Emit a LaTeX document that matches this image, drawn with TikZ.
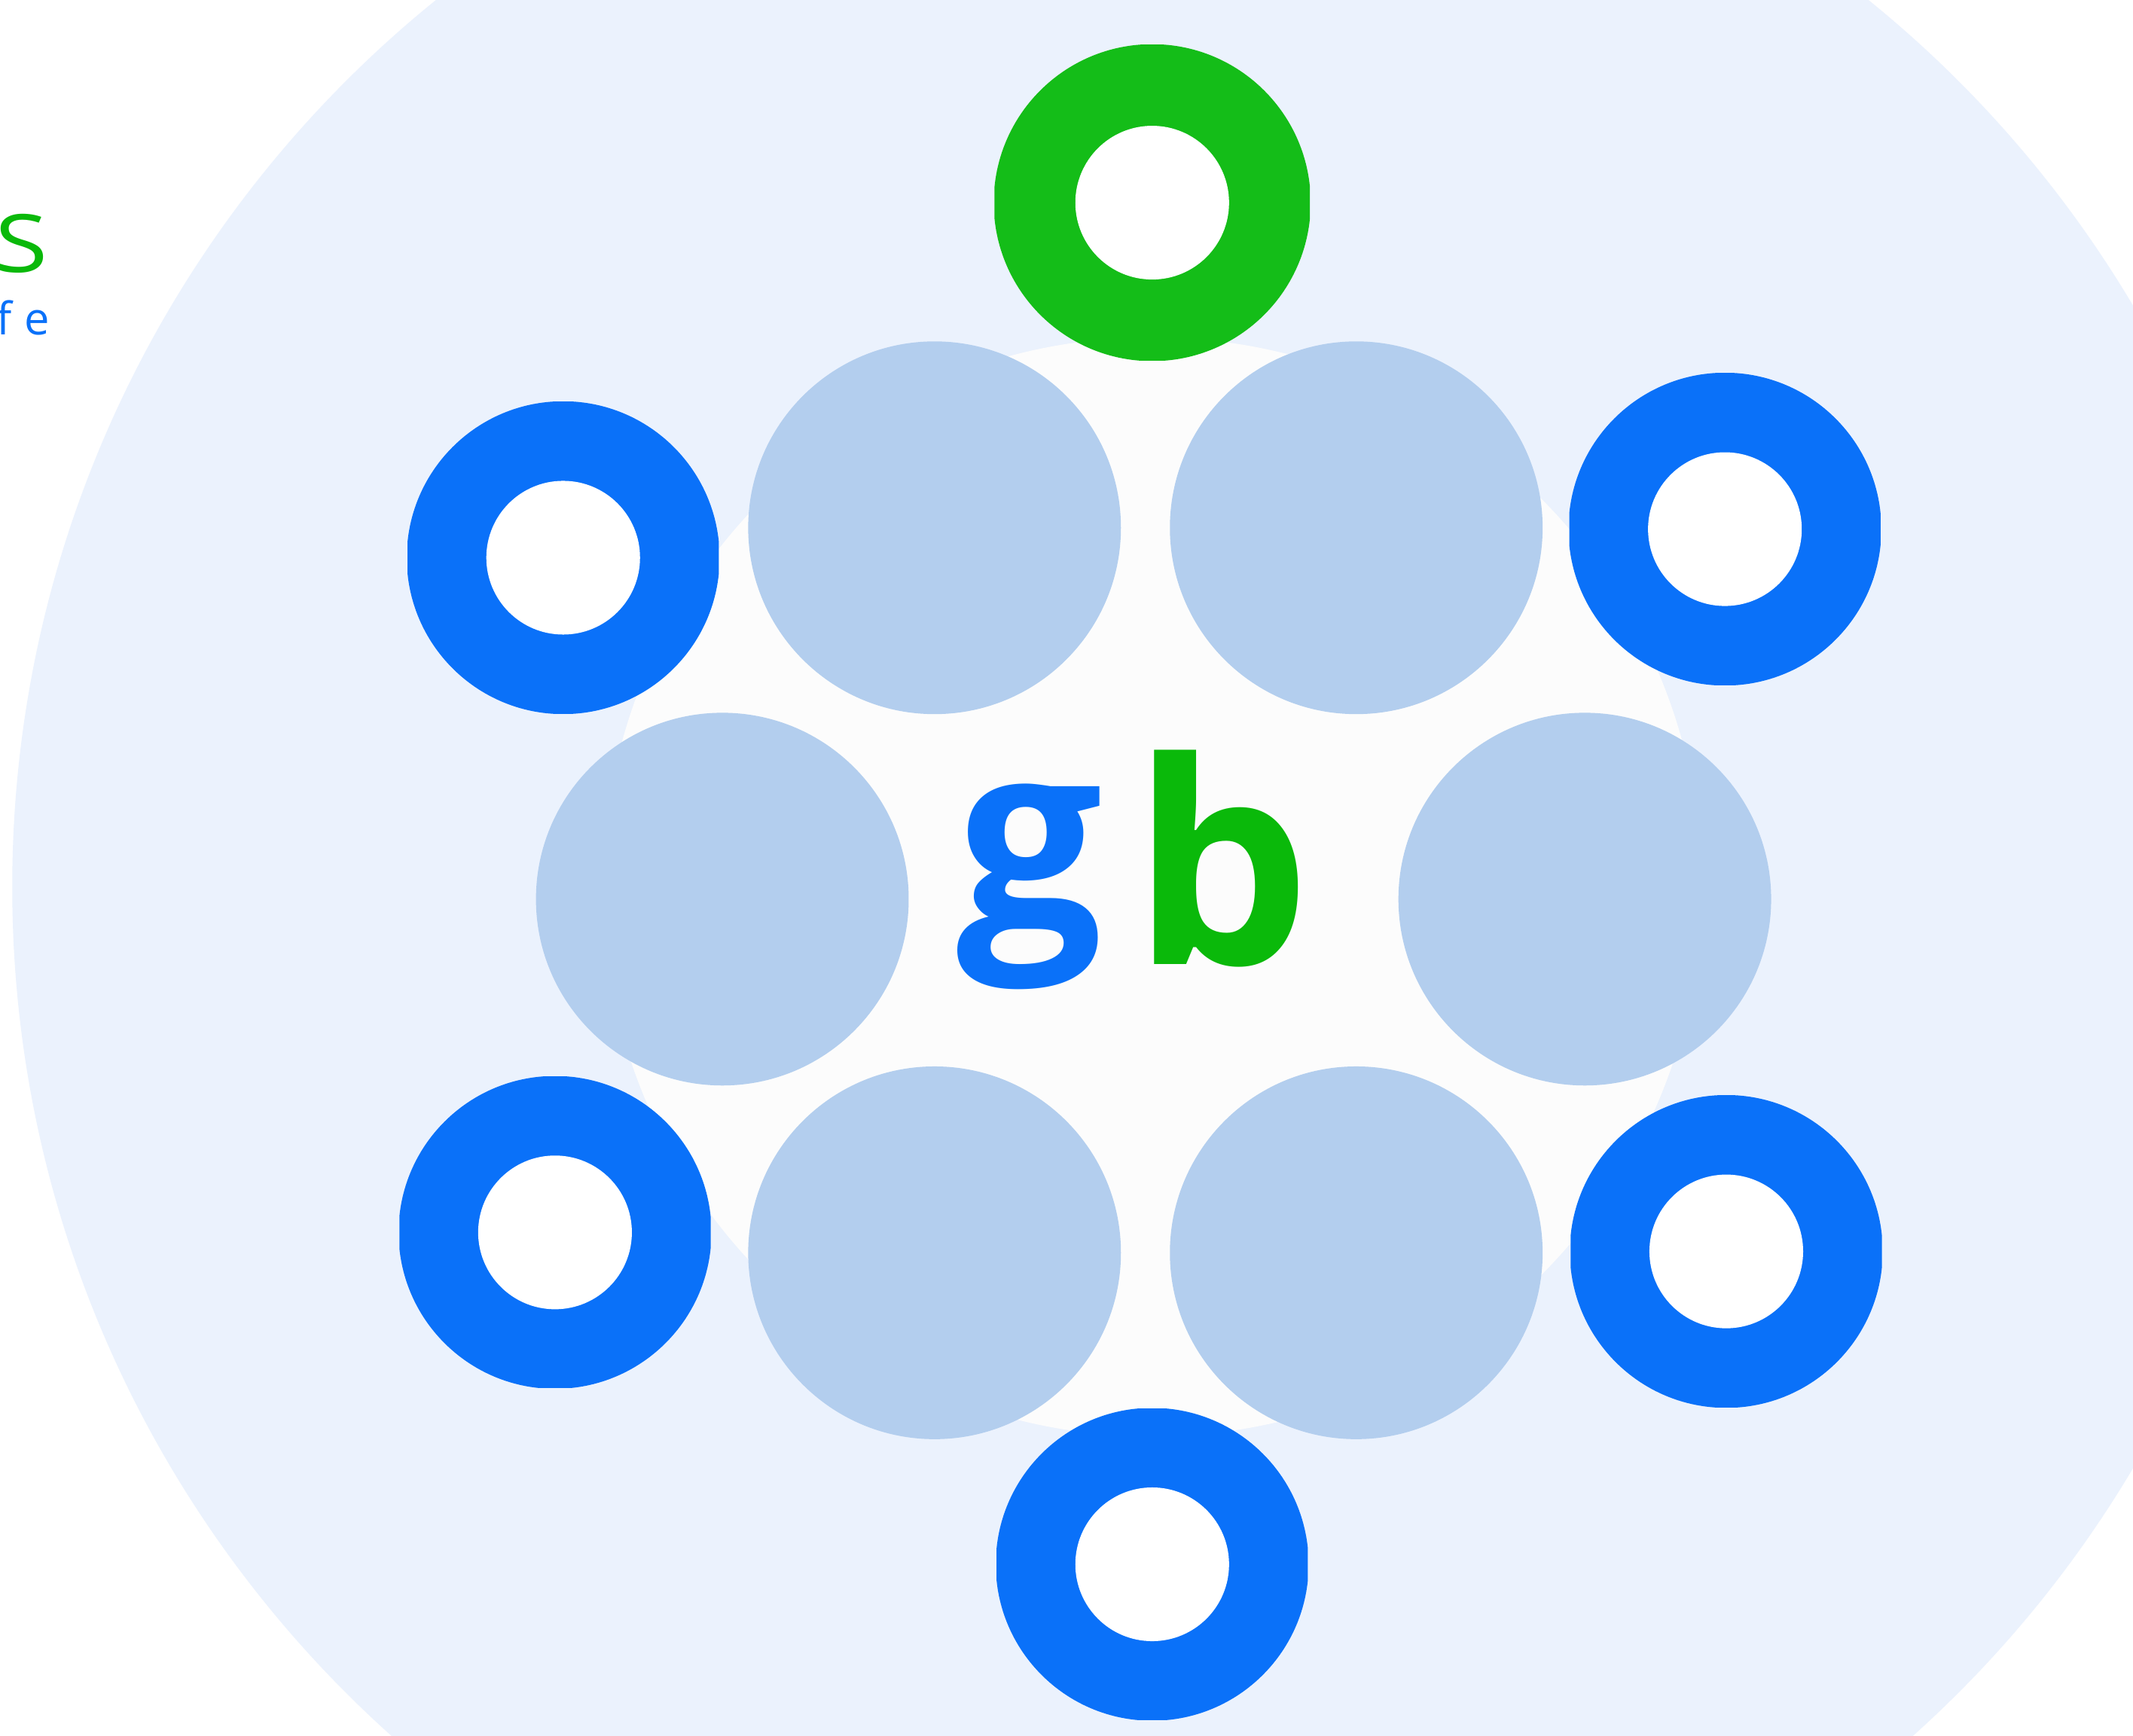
\documentclass[tikz,border=0pt]{standalone}
\usepackage{fontspec}
\newfontfamily\markfont{Open Sans}
\usepackage{xcolor}
\usepackage{tikz}

\definecolor{markblue}{HTML}{0A71F9}
\definecolor{ringgreen}{HTML}{14BD18}
\definecolor{markgreen}{HTML}{0AB90A}
\definecolor{discblue}{HTML}{B3CEEE}
\definecolor{halo}{HTML}{EBF2FD}
\definecolor{core}{HTML}{FCFCFC}

\begin{document}
\begin{tikzpicture}[
  x=0.1mm, y=-0.1mm,
  disc/.style={fill=discblue},
  hole/.style={fill=white},
  glyph/.style={inner sep=0pt, anchor=base, font={\markfont\bfseries\fontsize{#1}{#1}\selectfont}},
  tag/.style={inner sep=0pt, anchor=base east, font={\markfont\fontsize{#1}{#1}\selectfont}}]
\useasboundingbox (0,0) rectangle (1568,1276);
\fill[white] (0,0) rectangle (1568,1276);
% background halo and core
\fill[halo] (847,652) circle (838);
\fill[core] (847,652) circle (404);
% inner discs
\foreach \cx/\cy in {687/388, 997/388, 531/661, 1165/661, 687/921, 997/921}
  \fill[disc] (\cx,\cy) circle (137);
% outer rings
\foreach \cx/\cy/\col/\r in {847/149/ringgreen/116.5, 414/410/markblue/115, 1268/389/markblue/115,
    408/906/markblue/115, 1269/920/markblue/115, 847/1150/markblue/115}
{
  \begin{scope}
    \clip (\cx-\r+0.6,\cy-\r+0.6) rectangle (\cx+\r-0.6,\cy+\r-0.6);
    \fill[\col] (\cx,\cy) circle (\r);
  \end{scope}
  \fill[hole] (\cx,\cy) circle (56.5);
}
% lettering
\node[glyph=54, text=markblue] (g) at (757,682) {g};
\node[glyph=59, text=markgreen] (b) at (898,709) {b};
\node[tag=16.8, text=markgreen, xscale=1.2] (s) at (36,200) {S};
\node[tag=9.4, text=markblue] (fe) at (37,246) {f\kern2.5pt e};
\end{tikzpicture}
\end{document}
